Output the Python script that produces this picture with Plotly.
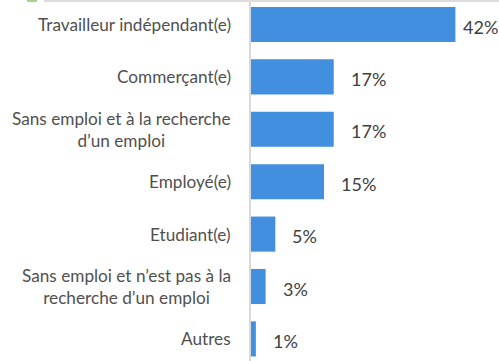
import plotly.graph_objects as go

# Répartition par statut professionnel (%)
categories = [
    "Travailleur indépendant(e)",
    "Commerçant(e)",
    "Sans emploi et à la recherche<br>d’un emploi",
    "Employé(e)",
    "Etudiant(e)",
    "Sans emploi et n’est pas à la<br>recherche d’un emploi",
    "Autres",
]
values = [42, 17, 17, 15, 5, 3, 1]
value_labels = ["42%", "17%", "17%", "15%", "5%", "3%", "1%"]

W, H = 499, 361
LEFT = 251
X_MAX = 50.96
BAR_COLOR = "#428EDF"
LABEL_FONT = "Lato, 'Open Sans', sans-serif"

fig = go.Figure(
    go.Bar(
        x=values,
        y=list(range(len(categories))),
        orientation="h",
        width=0.67,
        marker=dict(color=BAR_COLOR, line=dict(width=0)),
        hoverinfo="skip",
    )
)

px_per_unit = (W - LEFT) / X_MAX
annotations = []
for i, (cat, v, lab) in enumerate(zip(categories, values, value_labels)):
    # category name, right-aligned against the axis, lines centred
    annotations.append(dict(
        x=0, xref="paper", y=i, yref="y", text=cat, showarrow=False,
        xanchor="right", yanchor="middle", align="center", xshift=-18,
        font=dict(family=LABEL_FONT, size=17.2, color="#505050"),
    ))
    # value label just past the end of the bar, pulled in near the edge
    room = (X_MAX - v) * px_per_unit
    shift = min(15, room - 38)
    annotations.append(dict(
        x=v, xref="x", y=i, yref="y", text=lab, showarrow=False,
        xanchor="left", yanchor="middle", xshift=shift, yshift=-2,
        font=dict(family=LABEL_FONT, size=18, color="#404040"),
    ))

plot_w = W - LEFT
def px_to_paper(px):
    return (px - LEFT) / plot_w

shapes = [
    # thin frame line along the top edge
    dict(type="rect", xref="paper", yref="paper",
         x0=px_to_paper(44), x1=1, y0=1 - 2 / H, y1=1,
         line=dict(width=0), fillcolor="#dcdcdc", layer="above"),
    # small green marker at the top left
    dict(type="rect", xref="paper", yref="paper",
         x0=px_to_paper(27), x1=px_to_paper(37), y0=1 - 2 / H, y1=1,
         line=dict(width=0), fillcolor="#a9d18e", layer="above"),
]

fig.update_layout(
    width=W, height=H,
    margin=dict(l=LEFT, r=0, t=0, b=0),
    paper_bgcolor="white", plot_bgcolor="white",
    showlegend=False,
    annotations=annotations,
    shapes=shapes,
    xaxis=dict(range=[0, X_MAX], visible=False, fixedrange=True),
    yaxis=dict(
        range=[(H - 24.5) / 52.4, -24.5 / 52.4],
        showticklabels=False, showgrid=False, zeroline=False,
        showline=True, linecolor="#d9d9d9", linewidth=2, ticks="",
        fixedrange=True,
    ),
)

fig.write_html("out.html")
